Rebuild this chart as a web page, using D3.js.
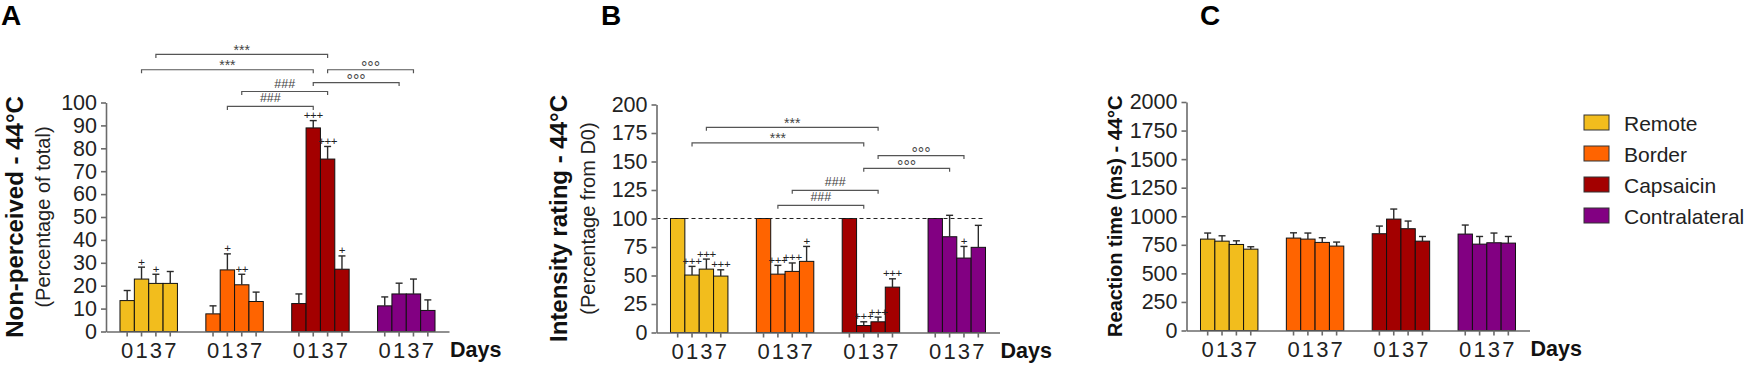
<!DOCTYPE html>
<html>
<head>
<meta charset="utf-8">
<script src="https://cdn.jsdelivr.net/npm/d3@7"></script>
<style>
  body { margin: 0; background: #fff; }
  svg { display: block; }
</style>
</head>
<body>
<div id="chart"></div>
<script>
const FONT = "'Liberation Sans', Arial, sans-serif";

// shared categories
const groups = ["Remote", "Border", "Capsaicin", "Contralateral"];
const days = ["0", "1", "3", "7"];
const groupColors = ["#F2BD1D", "#FF6400", "#A30000", "#820082"];

// A - non-perceived (% of total), mean and SEM per group x day
const nonPerceived = [[13.5, 22.9, 21, 21], [7.7, 26.9, 20.4, 13.1], [12.2, 88.9, 75.3, 27.2], [11.2, 16.4, 16.4, 9.2]];
const nonPerceivedSem = [[4.4, 5.2, 4, 5.2], [3.5, 7, 4.6, 4.1], [4.2, 3.2, 5.5, 5.8], [3.9, 4.7, 6.5, 4.6]];
const nonPerceivedMarks = [["", "+", "+", ""], ["", "+", "++", ""], ["", "+++", "+++", "+"], ["", "", "", ""]];
const nonPerceivedBrackets = [
  ["Remote", "3", "Capsaicin", "3", 121, "***"],
  ["Remote", "1", "Capsaicin", "1", 114.3, "***"],
  ["Capsaicin", "3", "Contralateral", "3", 114.3, "°°°"],
  ["Capsaicin", "1", "Contralateral", "1", 108.7, "°°°"],
  ["Border", "3", "Capsaicin", "3", 104.8, "###"],
  ["Border", "1", "Capsaicin", "1", 98.3, "###"]
];
const nonPerceivedTicks = d3.range(0, 101, 10);

// B - intensity rating (% from D0)
const intensity = [[100, 50.4, 55.6, 49.5], [100, 51.2, 53.6, 62.4], [100, 6.1, 9.4, 39.8], [100, 84, 65.3, 74.7]];
const intensitySem = [[null, 7.6, 8.8, 5.5], [null, 7.7, 7.4, 13.1], [null, 3.3, 4.1, 7.3], [null, 18.8, 10.2, 19.3]];
const intensityMarks = [["", "+++", "+++", "+++"], ["", "+++", "+++", "+"], ["", "+++", "+++", "+++"], ["", "", "+", ""]];
const intensityBrackets = [
  ["Remote", "3", "Capsaicin", "3", 180, "***"],
  ["Remote", "1", "Capsaicin", "1", 166.3, "***"],
  ["Capsaicin", "3", "Contralateral", "3", 155.2, "°°°"],
  ["Capsaicin", "1", "Contralateral", "1", 144, "°°°"],
  ["Border", "3", "Capsaicin", "3", 124.7, "###"],
  ["Border", "1", "Capsaicin", "1", 111.6, "###"]
];
const intensityTicks = d3.range(0, 201, 25);
const intensityRef = 100;

// C - reaction time (ms)
const reaction = [[800, 782, 753, 712], [809, 800, 771, 739], [847, 975, 891, 782], [844, 756, 768, 765]];
const reactionSem = [[53, 47, 32, 21], [46, 53, 41, 35], [67, 88, 67, 41], [79, 67, 85, 58]];
const reactionMarks = [["", "", "", ""], ["", "", "", ""], ["", "", "", ""], ["", "", "", ""]];
const reactionBrackets = [];
const reactionTicks = d3.range(0, 2001, 250);

const svg = d3.select("#chart").append("svg")
  .attr("width", 1745)
  .attr("height", 367)
  .attr("font-family", FONT);

const panels = [
  { letter: "A", letterX: 1, x0: 106, yTop: 102.5, yBottom: 331.5, domain: [0, 100], ticks: nonPerceivedTicks,
    values: nonPerceived, sem: nonPerceivedSem, marks: nonPerceivedMarks, brackets: nonPerceivedBrackets,
    title: "Non-perceived - 44°C", titleX: 23, titleSize: 24, subtitle: "(Percentage of total)", subX: 50 },
  { letter: "B", letterX: 601, x0: 656.5, yTop: 104.5, yBottom: 332.5, domain: [0, 200], ticks: intensityTicks,
    values: intensity, sem: intensitySem, marks: intensityMarks, brackets: intensityBrackets, ref: intensityRef,
    title: "Intensity rating - 44°C", titleX: 567, titleSize: 24, subtitle: "(Percentage from D0)", subX: 595 },
  { letter: "C", letterX: 1200, x0: 1186.5, yTop: 102, yBottom: 330.5, domain: [0, 2000], ticks: reactionTicks,
    values: reaction, sem: reactionSem, marks: reactionMarks, brackets: reactionBrackets,
    title: "Reaction time (ms) - 44°C", titleX: 1122, titleSize: 20 }
];

// baseline shift per bracket symbol so glyphs sit above the line
const labelStyle = { "***": [14, 0.5], "###": [12.5, -3.9], "°°°": [16, 3.4] };

function drawPanel(p) {
  const g = svg.append("g");
  const x = d3.scaleBand().domain(groups).range([p.x0, p.x0 + 343]).paddingInner(0.331).paddingOuter(0.163);
  const xd = d3.scaleBand().domain(days).range([0, x.bandwidth()]);
  const y = d3.scaleLinear().domain(p.domain).range([p.yBottom, p.yTop]);
  const cx = (grp, day) => x(grp) + xd(day) + xd.bandwidth() / 2;

  const rows = groups.flatMap((grp, i) => days.map((day, j) => ({
    grp, day, v: p.values[i][j], e: p.sem[i][j], m: p.marks[i][j], color: groupColors[i]
  })));

  // bars
  g.selectAll("rect.bar")
    .data(rows)
    .enter()
    .append("rect")
    .attr("class", "bar")
    .attr("x", d => x(d.grp) + xd(d.day))
    .attr("y", d => y(d.v))
    .attr("width", xd.bandwidth())
    .attr("height", d => p.yBottom - y(d.v))
    .attr("fill", d => d.color)
    .attr("stroke", "#111")
    .attr("stroke-width", 1);

  // error bars
  const err = g.selectAll("g.err")
    .data(rows.filter(d => d.e != null))
    .enter()
    .append("g")
    .attr("stroke", "#2a2a2a")
    .attr("stroke-width", 1.4);
  err.append("line")
    .attr("x1", d => cx(d.grp, d.day)).attr("x2", d => cx(d.grp, d.day))
    .attr("y1", d => y(d.v)).attr("y2", d => y(d.v + d.e));
  err.append("line")
    .attr("x1", d => cx(d.grp, d.day) - 3.5).attr("x2", d => cx(d.grp, d.day) + 3.5)
    .attr("y1", d => y(d.v + d.e)).attr("y2", d => y(d.v + d.e));

  // significance vs day 0
  g.selectAll("text.mark")
    .data(rows.filter(d => d.m))
    .enter()
    .append("text")
    .attr("x", d => cx(d.grp, d.day))
    .attr("y", d => y(d.v + (d.e || 0)) - 1.5)
    .attr("text-anchor", "middle")
    .attr("font-size", 11.5)
    .attr("letter-spacing", -0.4)
    .attr("fill", "#222")
    .text(d => d.m);

  // reference line
  if (p.ref != null) {
    g.append("line")
      .attr("x1", p.x0).attr("x2", x("Contralateral") + x.bandwidth())
      .attr("y1", y(p.ref)).attr("y2", y(p.ref))
      .attr("stroke", "#222")
      .attr("stroke-width", 1.2)
      .attr("stroke-dasharray", "4,3");
  }

  // comparison brackets
  p.brackets.forEach(([g1, d1, g2, d2, level, label]) => {
    const x1 = cx(g1, d1), x2 = cx(g2, d2), yl = y(level);
    g.append("path")
      .attr("d", `M${x1},${yl + 3.5}V${yl}H${x2}V${yl + 3.5}`)
      .attr("fill", "none")
      .attr("stroke", "#555")
      .attr("stroke-width", 1.2);
    const [fs, shift] = labelStyle[label];
    g.append("text")
      .attr("x", (x1 + x2) / 2)
      .attr("y", yl + shift)
      .attr("text-anchor", "middle")
      .attr("font-size", fs)
      .attr("fill", "#444")
      .text(label);
  });

  // y axis
  g.append("g")
    .attr("transform", `translate(${p.x0},0)`)
    .call(d3.axisLeft(y).tickValues(p.ticks).tickFormat(d3.format("d")).tickSize(5).tickPadding(4).tickSizeOuter(0))
    .attr("font-family", FONT)
    .attr("font-size", 21.5)
    .call(a => a.selectAll("text").attr("fill", "#222"))
    .call(a => a.selectAll("line, path").attr("stroke", "#6b6b6b").attr("stroke-width", 1.6));

  // x axis line
  g.append("g")
    .attr("transform", `translate(0,${p.yBottom})`)
    .call(d3.axisBottom(x).tickValues([]).tickSizeOuter(0))
    .call(a => a.select(".domain").attr("stroke", "#6b6b6b").attr("stroke-width", 1.6));

  // day ticks under each group
  groups.forEach(grp => {
    g.append("g")
      .attr("transform", `translate(${x(grp)},${p.yBottom})`)
      .call(d3.axisBottom(xd).tickSize(5).tickPadding(6))
      .attr("font-family", FONT)
      .attr("font-size", 22)
      .call(a => a.select(".domain").remove())
      .call(a => a.selectAll("text").attr("fill", "#222"))
      .call(a => a.selectAll("line").attr("stroke", "#6b6b6b").attr("stroke-width", 1.6));
  });

  g.append("text")
    .attr("x", p.x0 + 344)
    .attr("y", p.yBottom + 25.5)
    .attr("font-size", 21.5)
    .attr("font-weight", "bold")
    .attr("fill", "#111")
    .text("Days");

  // titles
  const midY = (p.yTop + p.yBottom) / 2;
  g.append("text")
    .attr("transform", `translate(${p.titleX},${midY}) rotate(-90)`)
    .attr("text-anchor", "middle")
    .attr("font-size", p.titleSize)
    .attr("font-weight", "bold")
    .attr("fill", "#111")
    .text(p.title);
  if (p.subtitle) {
    g.append("text")
      .attr("transform", `translate(${p.subX},${midY}) rotate(-90)`)
      .attr("text-anchor", "middle")
      .attr("font-size", 20)
      .attr("fill", "#222")
      .text(p.subtitle);
  }

  g.append("text")
    .attr("x", p.letterX)
    .attr("y", 25)
    .attr("font-size", 28)
    .attr("font-weight", "bold")
    .attr("fill", "#000")
    .text(p.letter);
}

panels.forEach(drawPanel);

// legend
const legend = svg.append("g").attr("transform", "translate(1584,115)");
const items = legend.selectAll("g")
  .data(groups)
  .enter()
  .append("g")
  .attr("transform", (d, i) => `translate(0,${i * 31})`);
items.append("rect")
  .attr("width", 25)
  .attr("height", 15)
  .attr("fill", (d, i) => groupColors[i])
  .attr("stroke", "#333")
  .attr("stroke-width", 1);
items.append("text")
  .attr("x", 40)
  .attr("y", 16)
  .attr("font-size", 21)
  .attr("fill", "#222")
  .text(d => d);
</script>
</body>
</html>
